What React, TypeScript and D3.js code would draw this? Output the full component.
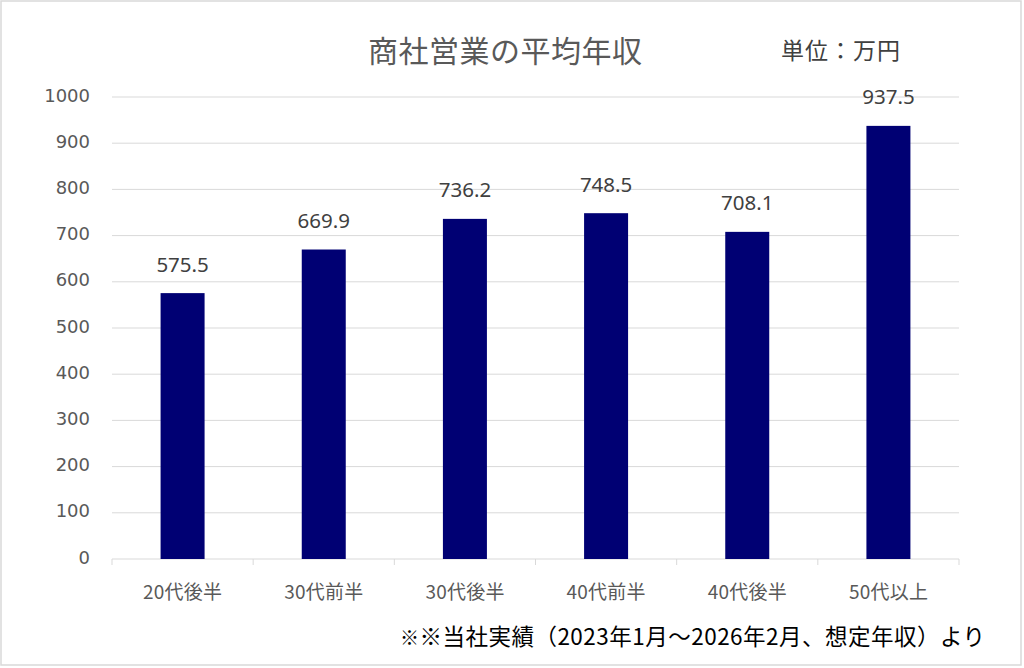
import React from "react";
import * as d3 from "d3";

const categories = ["20代後半", "30代前半", "30代後半", "40代前半", "40代後半", "50代以上"];
const values = [575.5, 669.9, 736.2, 748.5, 708.1, 937.5];
const yTicks = [0, 100, 200, 300, 400, 500, 600, 700, 800, 900, 1000];
const title = "商社営業の平均年収";
const unitLabel = "単位：万円";
const footMark1 = "※";
const footMark2 = "※";
const footnote = "当社実績（2023年1月～2026年2月、想定年収）より";

const W = 1024;
const H = 668;
const NUM = "'DejaVu Sans', sans-serif";
const LBL = "'Noto Sans', 'Noto Sans CJK JP', sans-serif";
const CJK = "'Noto Sans CJK JP', sans-serif";

export default function App() {
  const x = d3.scaleBand<string>().domain(categories).range([112, 959]).paddingInner(0).paddingOuter(0);
  const y = d3.scaleLinear().domain([0, 1000]).range([559, 97]);
  const barW = 44;
  const boundaries = [...categories.map((c) => x(c) as number), 959];

  return (
    <svg width={W} height={H} style={{ position: "absolute", left: 0, top: 0, background: "#fff" }}>
      <rect x={1} y={1} width={1020} height={664} fill="#fff" stroke="#d9d9d9" strokeWidth={1.5} />
      {yTicks.map((t) => (
        <g key={t}>
          {t > 0 && <line x1={112} x2={959} y1={y(t)} y2={y(t)} stroke="#d9d9d9" strokeWidth={1} />}
          <text x={90} y={y(t) + 4.6} textAnchor="end" fontFamily={NUM} fontSize={18} fill="#595959">
            {t}
          </text>
        </g>
      ))}
      <line x1={112} x2={959} y1={y(0)} y2={y(0)} stroke="#d9d9d9" strokeWidth={1} />
      {boundaries.map((b, i) => (
        <line key={i} x1={b} x2={b} y1={y(0)} y2={y(0) + 6} stroke="#d9d9d9" strokeWidth={1} />
      ))}
      {categories.map((c, i) => {
        const cx = (x(c) as number) + x.bandwidth() / 2;
        return (
          <g key={c}>
            <rect x={cx - barW / 2} y={y(values[i])} width={barW} height={y(0) - y(values[i])} fill="#000073" />
            <text x={cx} y={y(values[i]) - 21.4} textAnchor="middle" fontFamily={LBL} fontSize={20.5} fill="#404040">
              {values[i].toFixed(1)}
            </text>
            <text x={cx - 39.5} y={599} fontFamily={CJK} fontSize={19} fill="#595959" textLength={79} lengthAdjust="spacing">
              {c}
            </text>
          </g>
        );
      })}
      <text x={368} y={61.5} fontFamily={CJK} fontSize={30} fill="#595959" textLength={274} lengthAdjust="spacing">
        {title}
      </text>
      <text x={781} y={59} fontFamily={CJK} fontSize={23} fill="#404040" textLength={119} lengthAdjust="spacing">
        {unitLabel}
      </text>
      <text x={400} y={644.5} fontFamily={CJK} fontSize={22.5} fill="#000" textLength={585} lengthAdjust="spacing">
        <tspan fontSize={19}>{footMark1}</tspan>
        <tspan fontWeight="bold">{footMark2}</tspan>
        {footnote}
      </text>
    </svg>
  );
}
